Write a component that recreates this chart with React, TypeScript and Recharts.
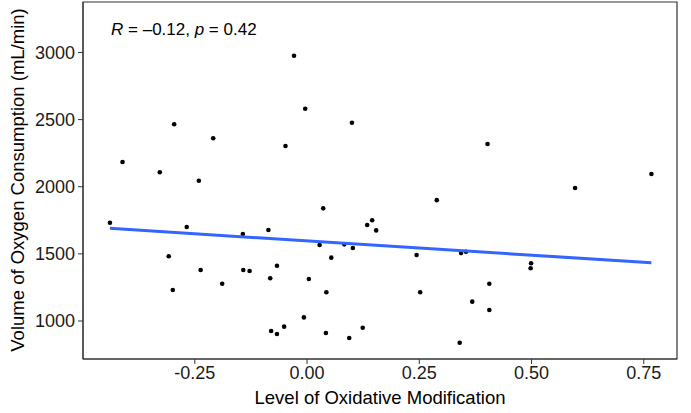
import React from "react";
import {
  ReferenceArea,
  Scatter,
  ScatterChart,
  XAxis,
  YAxis,
} from "recharts";

// level of oxidative modification vs VO2 (mL/min)
const oxMod = [
  -0.029, -0.004, -0.296, 0.1, -0.209, -0.048, -0.411, -0.328, -0.241, 0.402,
  0.597, 0.767, 0.289, -0.439, -0.268, -0.143, -0.086, 0.036, 0.134, 0.145,
  0.154, 0.028, 0.083, 0.102, -0.308, 0.054, -0.067, -0.237, -0.142, -0.128,
  -0.082, 0.004, -0.189, -0.299, 0.043, -0.007, -0.051, -0.08, -0.067, 0.042,
  0.124, 0.094, 0.244, 0.343, 0.354, 0.499, 0.498, 0.406, 0.252, 0.368, 0.406,
  0.34,
];
const vo2 = [
  2976, 2581, 2465, 2477, 2361, 2304, 2184, 2108, 2045, 2318, 1991, 2095, 1900,
  1732, 1700, 1648, 1678, 1839, 1715, 1750, 1675, 1566, 1571, 1544, 1482, 1472,
  1412, 1380, 1380, 1372, 1318, 1313, 1278, 1231, 1214, 1027, 958, 926, 903,
  911, 950, 873, 1492, 1506, 1516, 1430, 1393, 1278, 1214, 1144, 1082, 838,
];

// ends of the fitted line
const fitX = [-0.439, 0.767];
const fitY = [1690, 1434];

const xTicks = [-0.25, 0, 0.25, 0.5, 0.75];
const yTicks = [1000, 1500, 2000, 2500, 3000];

const xDomain: [number, number] = [-0.499, 0.824];
const yDomain: [number, number] = [717, 3376];

const points = oxMod.map((x, i) => ({ x, y: vo2[i] }));
const fit = fitX.map((x, i) => ({ x, y: fitY[i] }));

const font = "'Liberation Sans', Arial, sans-serif";
const tickStyle = { fontSize: 18, fill: "#1a1a1a", fontFamily: font };

const Dot = (props: any) => (
  <circle cx={props.cx} cy={props.cy} r={2.3} fill="#000" />
);

export default function App() {
  return (
    <div style={{ position: "absolute", left: 0, top: 0, width: 691, height: 413, background: "#fff" }}>
      <ScatterChart
        width={691}
        height={413}
        margin={{ top: 2, right: 14, left: 0, bottom: 0 }}
      >
        <XAxis
          type="number"
          dataKey="x"
          domain={xDomain}
          ticks={xTicks}
          allowDataOverflow
          tickFormatter={(v) => Number(v).toFixed(2)}
          tick={tickStyle}
          tickSize={5}
          tickMargin={2}
          height={54}
          axisLine={{ stroke: "#333" }}
          tickLine={{ stroke: "#333" }}
          label={{
            content: () => (
              <text
                x={380}
                y={404}
                textAnchor="middle"
                fontSize={18.5}
                fontFamily={font}
                fill="#000"
              >
                Level of Oxidative Modification
              </text>
            ),
          }}
        />
        <YAxis
          type="number"
          dataKey="y"
          domain={yDomain}
          ticks={yTicks}
          allowDataOverflow
          tick={tickStyle}
          tickSize={5}
          tickMargin={3}
          width={83}
          axisLine={{ stroke: "#333" }}
          tickLine={{ stroke: "#333" }}
          label={{
            content: () => (
              <text
                x={24}
                y={180}
                transform="rotate(-90 24 180)"
                textAnchor="middle"
                fontSize={18.5}
                fontFamily={font}
                fill="#000"
              >
                Volume of Oxygen Consumption (mL/min)
              </text>
            ),
          }}
        />
        <ReferenceArea
          x1={xDomain[0]}
          x2={xDomain[1]}
          y1={yDomain[0]}
          y2={yDomain[1]}
          fill="none"
          stroke="#333"
          strokeWidth={1.2}
        />
        <Scatter data={points} shape={Dot} isAnimationActive={false} />
        <Scatter
          data={fit}
          line={{ stroke: "#3366FF", strokeWidth: 3 }}
          shape={() => <g />}
          isAnimationActive={false}
        />
      </ScatterChart>
      <svg
        width={691}
        height={413}
        style={{ position: "absolute", left: 0, top: 0, pointerEvents: "none" }}
      >
        <text x={111} y={35} fontSize={17} fontFamily={font} fill="#000">
          <tspan fontStyle="italic">R</tspan> = {"\u2013"}0.12,{" "}
          <tspan fontStyle="italic">p</tspan> = 0.42
        </text>
      </svg>
    </div>
  );
}
